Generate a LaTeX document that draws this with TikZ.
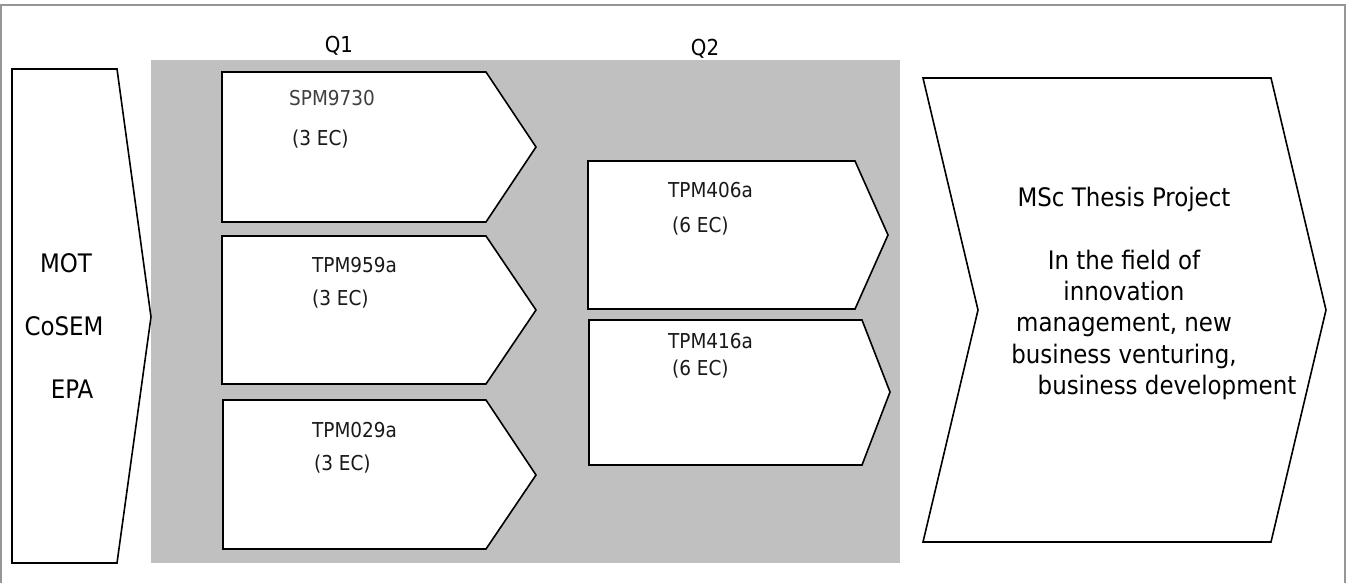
\documentclass[tikz,border=0pt]{standalone}
\usepackage{fontspec}
\setmainfont{DejaVu Sans Condensed}
\usetikzlibrary{positioning}
\definecolor{panel}{RGB}{192,192,192}
\definecolor{frame}{RGB}{150,150,150}
\newcommand{\boxfont}{\fontsize{20.5}{24}\selectfont}
\newcommand{\bigfont}{\fontsize{25.5}{31.3}\selectfont}
\tikzset{box/.style={draw,line width=1.6pt,fill=white,line join=miter},
  lbl/.style={anchor=base west,inner sep=0pt,font=\boxfont,text=black!90},
  big/.style={anchor=base,inner sep=0pt,font=\bigfont}}

\begin{document}
\begin{tikzpicture}[x=1pt,y=-1pt]
\useasboundingbox (0,0) rectangle (1346,583);
\draw[frame,line width=1.5pt] (1,600)--(1,5)--(1345,5)--(1345,600);
\fill[panel] (151,60) rectangle (900,563);
% entry programmes
\draw[box] (12,69)--(117,69)--(151,317)--(117,563)--(12,563)--cycle;
\node[big] (mot) at (66,272){MOT};\node[big] (cosem) at (64,335){CoSEM};\node[big] (epa) at (72,398){EPA};
% Q1 courses
\node[big,font=\fontsize{22}{26}\selectfont] (q1) at (339,53){Q1};
\draw[box] (222,72)--(486,72)--(536,147)--(486,222)--(222,222)--cycle;
\draw[box] (222,236)--(486,236)--(536,310)--(486,384)--(222,384)--cycle;
\draw[box] (223,400)--(486,400)--(536,475)--(486,549)--(223,549)--cycle;
\node[lbl,text=black!75] (spm) at (289,106){SPM9730};\node[lbl] (spmec) at (292,146){(3 EC)};
\node[lbl] (tpma) at (312,272){TPM959a};\node[lbl] (tpmaec) at (312,305){(3 EC)};
\node[lbl] (tpmb) at (312,437){TPM029a};\node[lbl] (tpmbec) at (314,470){(3 EC)};
% Q2 courses
\node[big,font=\fontsize{22}{26}\selectfont] (q2) at (705,56){Q2};
\draw[box] (588,161)--(855,161)--(888,235)--(855,309)--(588,309)--cycle;
\draw[box] (589,320)--(862,320)--(890,392)--(862,465)--(589,465)--cycle;
\node[lbl] (tpmc) at (668,197){TPM406a};\node[lbl] (tpmcec) at (672,232){(6 EC)};
\node[lbl] (tpmd) at (668,348){TPM416a};\node[lbl] (tpmdec) at (672,375){(6 EC)};
% thesis
\draw[box] (923,78)--(1271,78)--(1326,310)--(1271,542)--(923,542)--(978,310)--cycle;
\node[big,anchor=north,align=center] (msc) at (1124,187){MSc Thesis Project\\[31.3pt]In the field of\\innovation\\management, new\\business venturing,\\\hspace*{86pt}business development};
\end{tikzpicture}
\end{document}
